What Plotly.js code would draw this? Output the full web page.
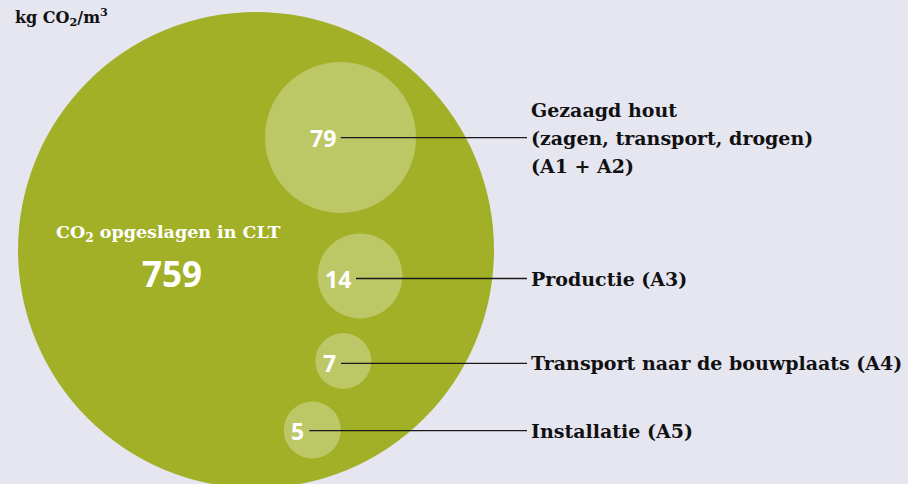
<!DOCTYPE html>
<html>
<head>
<meta charset="utf-8">
<script src="https://cdn.plot.ly/plotly-3.0.1.min.js"></script>
<style>html,body{margin:0;padding:0;background:#e6e6f1;}#chart{width:908px;height:484px;}</style>
</head>
<body>
<div id="chart"></div>
<script>
// ---- data ----
const totalLabel = "CO<sub>2</sub> opgeslagen in CLT";
const totalValue = 759;
const stages = ["Gezaagd hout<br>(zagen, transport, drogen)<br>(A1 + A2)", "Productie (A3)", "Transport naar de bouwplaats (A4)", "Installatie (A5)"];
const stageValues = [79, 14, 7, 5];
const unitLabel = "kg CO<sub>2</sub>/m<sup>3</sup>";

// ---- layout config (pixel-space positions / sizes) ----
const bigPos = {x: 256, y: 250, d: 476};
const smallX = [340.5, 360, 343.3, 312.3];
const smallY = [137.5, 276, 361, 430];
const smallD = [151, 85, 56, 57];
const lineY = [137.7, 278.5, 363.3, 430.7];
const lineStartX = [340.7, 356, 341, 309.3];
const lineEndX = 527;
const labelX = 529;
const labelLineGap = 28;

const olive = "#a1b026";
const lightC = "#bcc766";
const slab = "DejaVu Serif, serif";
const sans = "Open Sans, DejaVu Sans, sans-serif";

const traces = [];
traces.push({x:[bigPos.x], y:[bigPos.y], mode:"markers", type:"scatter", hoverinfo:"skip",
  marker:{size:[bigPos.d], color:olive, opacity:1, line:{width:0}}});
traces.push({x:smallX, y:smallY, mode:"markers", type:"scatter", hoverinfo:"skip",
  marker:{size:smallD, color:lightC, opacity:1, line:{width:0}}});
stageValues.forEach((v,i)=>{
  traces.push({x:[lineStartX[i], lineEndX], y:[lineY[i], lineY[i]], mode:"lines", type:"scatter",
    hoverinfo:"skip", line:{color:"#1a1a1a", width:1.3}});
});

const b = t => "<b>" + t + "</b>";
const ann = [];
ann.push({x:13, y:17, xref:"x", yref:"y", text:b(unitLabel), showarrow:false, xanchor:"left", yanchor:"middle",
  font:{family:slab, size:16, color:"#111"}});
ann.push({x:168, y:233, xref:"x", yref:"y", text:b(totalLabel), showarrow:false, xanchor:"center", yanchor:"middle",
  font:{family:slab, size:17.5, color:"#fff"}});
ann.push({x:172, y:273, xref:"x", yref:"y", text:b(String(totalValue)), showarrow:false, xanchor:"center", yanchor:"middle",
  font:{family:sans, size:35, color:"#fff"}});
stageValues.forEach((v,i)=>{
  ann.push({x:lineStartX[i]-3, y:lineY[i], xref:"x", yref:"y", text:b(String(v)), showarrow:false,
    xanchor:"right", yanchor:"middle", font:{family:sans, size:23, color:"#fff"}});
  const lines = stages[i].split("<br>");
  lines.forEach((ln, k)=>{
    ann.push({x:labelX, y:lineY[i] + (k - (lines.length-1)/2)*labelLineGap, xref:"x", yref:"y", text:b(ln), showarrow:false,
      xanchor:"left", yanchor:"middle", align:"left",
      font:{family:slab, size:19, color:"#111"}});
  });
});

const layout = {
  width:908, height:484, margin:{l:0,r:0,t:0,b:0},
  paper_bgcolor:"#e6e6f1", plot_bgcolor:"#e6e6f1", showlegend:false,
  xaxis:{range:[0,908], visible:false, fixedrange:true},
  yaxis:{range:[484,0], visible:false, fixedrange:true},
  annotations:ann
};
Plotly.newPlot("chart", traces, layout, {displayModeBar:false, staticPlot:true});
</script>
</body>
</html>
